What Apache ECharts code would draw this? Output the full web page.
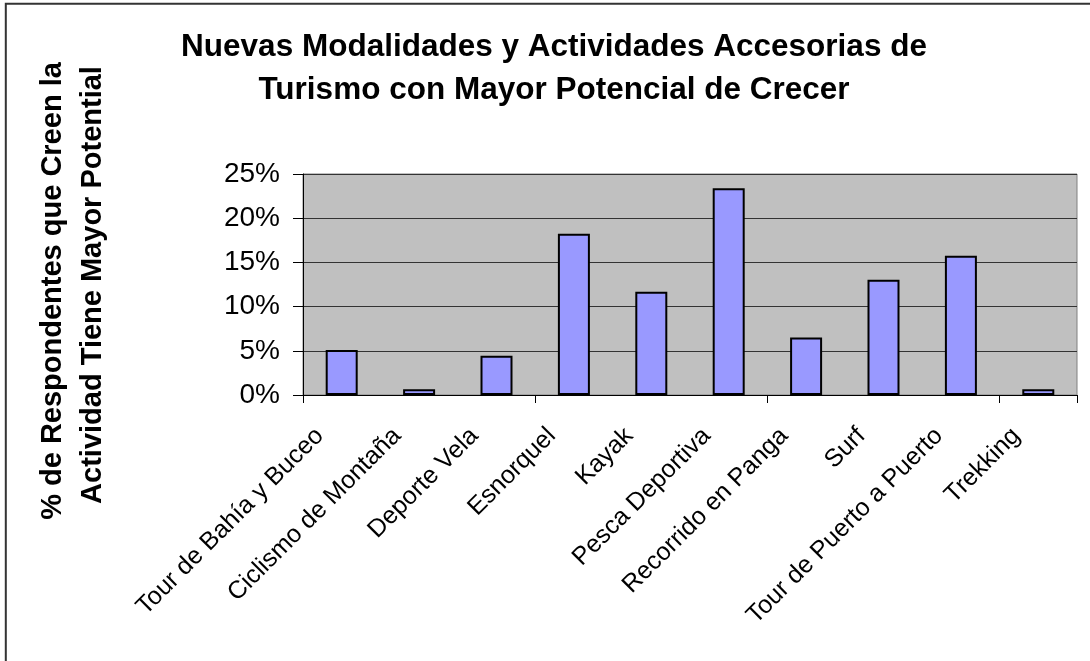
<!DOCTYPE html>
<html>
<head>
<meta charset="utf-8">
<script src="https://cdn.jsdelivr.net/npm/echarts@6/dist/echarts.min.js"></script>
<style>
html,body{margin:0;padding:0;background:#fff;}
#chart{width:1090px;height:661px;}
</style>
</head>
<body>
<div id="chart"></div>
<script>
var categories = ['Tour de Bahía y Buceo','Ciclismo de Montaña','Deporte Vela','Esnorquel','Kayak','Pesca Deportiva','Recorrido en Panga','Surf','Tour de Puerto a Puerto','Trekking'];
var shares = [0.051, 0.0065, 0.0445, 0.1825, 0.1168, 0.234, 0.065, 0.1305, 0.1575, 0.0065];
var titleLines = ['Nuevas Modalidades y Actividades Accesorias de','Turismo con Mayor Potencial de Crecer'];
var yTitleLines = ['% de Respondentes que Creen la','Actividad Tiene Mayor Potential'];
var yMin = 0, yMax = 0.25, yStep = 0.05;

var FONT = 'Arial, "Liberation Sans", sans-serif';
var LABEL_SHIFT = 22;
var chart = echarts.init(document.getElementById('chart'), null, {renderer:'canvas'});
chart.setOption({
  backgroundColor:'#ffffff',
  animation:false,
  title:{
    text: titleLines.join('\n'),
    left: 549, top: 21, textAlign:'center',
    textStyle:{fontFamily:FONT, fontSize:31.5, fontWeight:'bold', color:'#000', lineHeight:43}
  },
  graphic:[
    {type:'rect', shape:{x:5.8, y:3.8, width:1300, height:1000}, style:{fill:'none', stroke:'#333', lineWidth:2}, silent:true, z:100},
    {type:'text', x:53, y:291, rotation:Math.PI/2, style:{text:yTitleLines[0], font:'bold 29px '+FONT, fill:'#000', textAlign:'center', textVerticalAlign:'middle'}},
    {type:'text', x:93, y:285, rotation:Math.PI/2, style:{text:yTitleLines[1], font:'bold 29px '+FONT, fill:'#000', textAlign:'center', textVerticalAlign:'middle'}}
  ],
  grid:[
    {left:303, right:13, top:174, bottom:266, show:true, backgroundColor:'#C0C0C0', borderColor:'#808080', borderWidth:1, containLabel:false},
    {left:303-LABEL_SHIFT, right:13+LABEL_SHIFT, top:174, bottom:266, show:false, containLabel:false}
  ],
  xAxis:[
    {
      type:'category', data:categories, gridIndex:0,
      axisLine:{show:true, lineStyle:{color:'#000', width:1}},
      axisTick:{show:true, alignWithLabel:false, length:8, lineStyle:{color:'#000'}},
      axisLabel:{show:false}
    },
    {
      type:'category', data:categories, gridIndex:1,
      axisLine:{show:false}, axisTick:{show:false}, splitLine:{show:false},
      axisLabel:{interval:0, rotate:45, margin:37, color:'#000', fontFamily:FONT, fontSize:25}
    }
  ],
  yAxis:[
    {
      type:'value', min:yMin, max:yMax, interval:yStep, gridIndex:0,
      axisLine:{show:true, lineStyle:{color:'#000', width:1}},
      axisTick:{show:true, length:10, lineStyle:{color:'#000'}},
      axisLabel:{margin:23, color:'#000', fontFamily:FONT, fontSize:28, formatter:function(v){return Math.round(v*100)+'%';}},
      splitLine:{show:true, lineStyle:{color:'#333', width:1}}
    },
    {
      type:'value', min:yMin, max:yMax, gridIndex:1, show:false
    }
  ],
  series:[{
    type:'bar', data:shares, barWidth:32, xAxisIndex:0, yAxisIndex:0,
    itemStyle:{color:'#9999FF', borderColor:'#000', borderWidth:2}
  }]
});
</script>
</body>
</html>
